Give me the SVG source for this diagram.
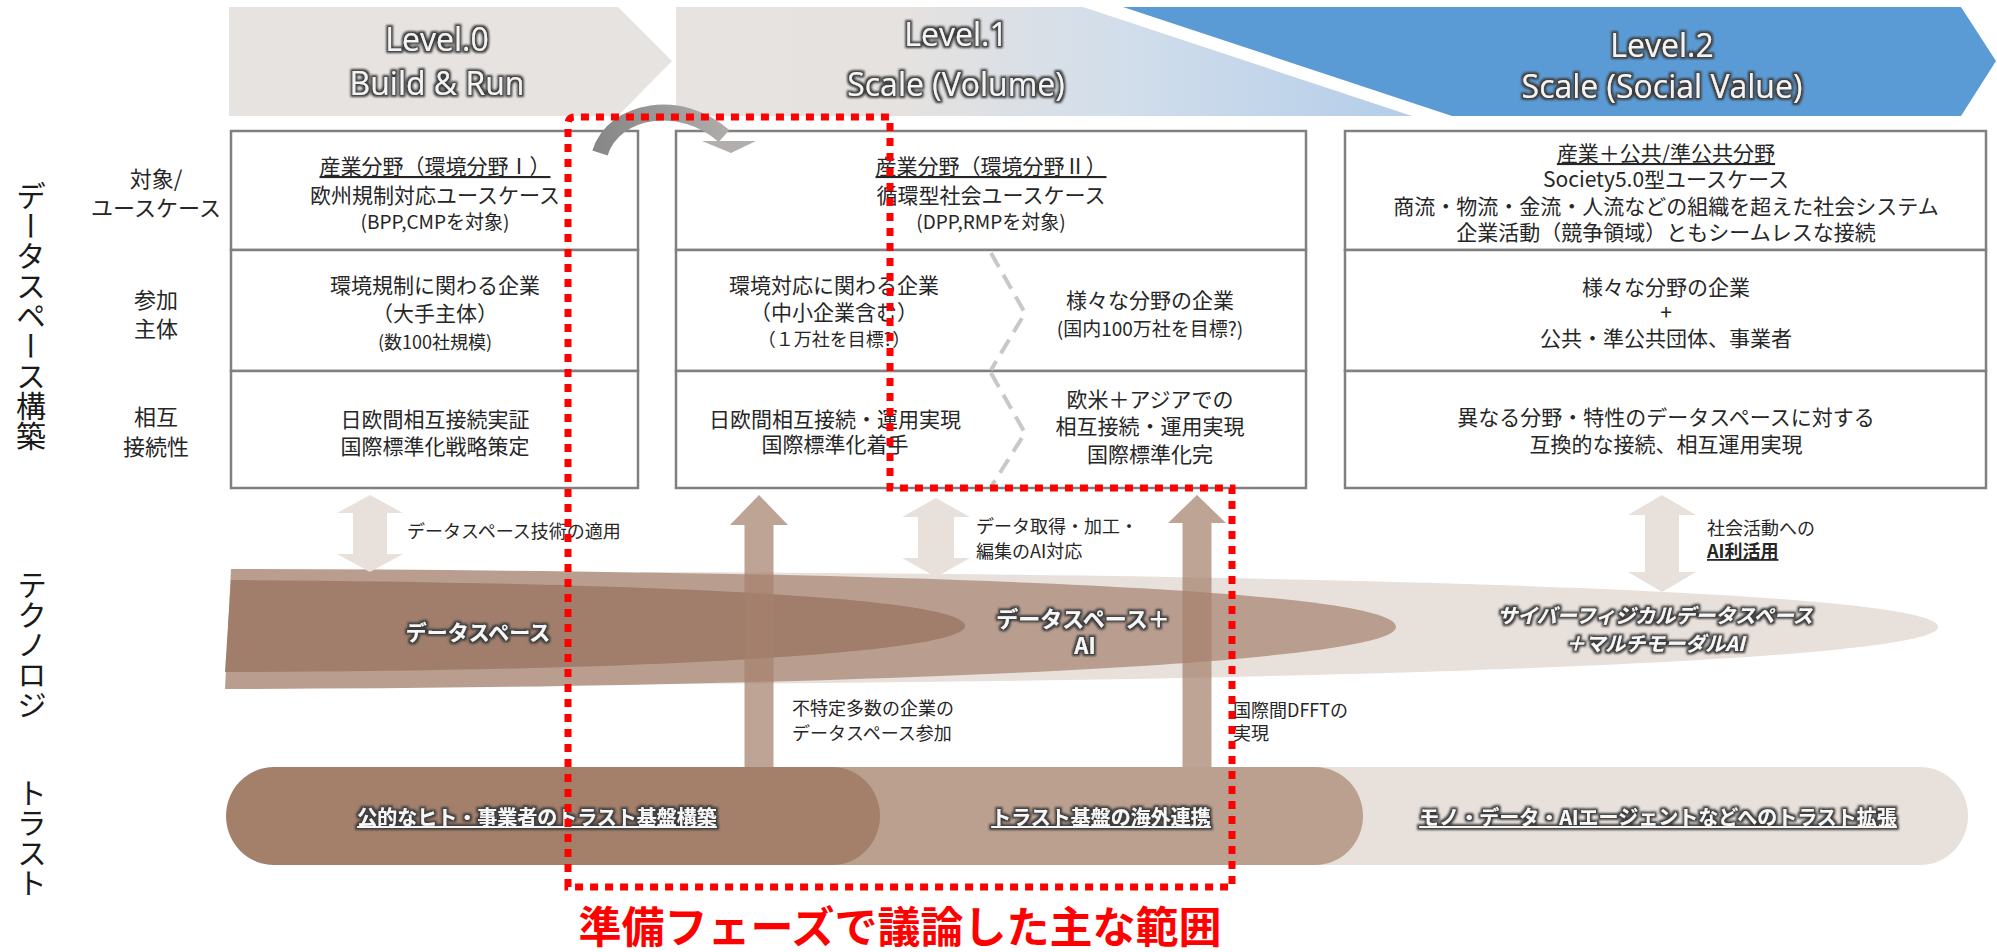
<svg xmlns="http://www.w3.org/2000/svg" width="1997" height="952" viewBox="0 0 1997 952">
<style>
text{font-family:"Noto Sans CJK JP","Noto Sans",sans-serif}
.hd{font-family:"Open Sans","Noto Sans CJK JP",sans-serif;font-size:32px;fill:#F4F4F4;text-anchor:middle}
.c{font-size:21px;fill:#262626;text-anchor:middle}
.s19{font-size:19px}
.s18{font-size:18px}
.lb{font-size:22px;fill:#262626;text-anchor:middle}
.vt{font-size:30px;fill:#1a1a1a;writing-mode:vertical-rl;text-anchor:middle}
.ul{text-decoration:underline}
.cell{fill:#fff;stroke:#808080;stroke-width:2.5}
.dash{fill:none;stroke:#C8C8C8;stroke-width:4;stroke-dasharray:16 9}
.dbl{fill:#E8E0DA}
.up{fill:#A5816C;opacity:0.72}
.note{font-size:18px;fill:#262626}
.wt{font-weight:bold;fill:#F7F7F7;text-anchor:middle}
</style>
<defs>
<linearGradient id="g1" gradientUnits="userSpaceOnUse" x1="676" y1="0" x2="1412" y2="0">
<stop offset="0" stop-color="#E7E3E0"/>
<stop offset="0.3" stop-color="#E6E2DF"/>
<stop offset="0.6" stop-color="#D2DEEB"/>
<stop offset="1" stop-color="#B4CDE9"/>
</linearGradient>
<linearGradient id="garc" gradientUnits="userSpaceOnUse" x1="590" y1="0" x2="740" y2="0">
<stop offset="0" stop-color="#858585"/>
<stop offset="1" stop-color="#B3AFAD"/>
</linearGradient>
<filter id="glow" x="-10%" y="-40%" width="120%" height="180%">
<feMorphology in="SourceAlpha" operator="dilate" radius="1.5" result="d"/>
<feGaussianBlur in="d" stdDeviation="0.9" result="b"/>
<feFlood flood-color="#3C3C3C"/>
<feComposite in2="b" operator="in" result="s"/>
<feMerge><feMergeNode in="s"/><feMergeNode in="SourceGraphic"/></feMerge>
</filter>
</defs>
<rect width="1997" height="952" fill="#fff"/>

<g id="header-level0">
<polygon points="229,7 618,7 672,61 618,116 229,116" fill="#E7E3E0"/>
<text class="hd" x="437" y="51" filter="url(#glow)">Level.0</text>
<text class="hd" x="437" y="95" filter="url(#glow)">Build &amp; Run</text>
</g>
<g id="header-level1">
<polygon points="676,7 1083,7 1412,116 676,116" fill="url(#g1)"/>
<text class="hd" x="956" y="46" filter="url(#glow)">Level.1</text>
<text class="hd" x="956" y="96" filter="url(#glow)">Scale (Volume)</text>
</g>
<g id="header-level2">
<polygon points="1123,7 1961,7 1996,61 1961,116 1452,116" fill="#5B9BD5"/>
<text class="hd" x="1662" y="57" filter="url(#glow)">Level.2</text>
<text class="hd" x="1662" y="98" filter="url(#glow)">Scale (Social Value)</text>
</g>

<g id="side-labels">
<text class="vt" x="31" y="316">データスペース構築</text>
<text class="vt" x="32" y="645">テクノロジ</text>
<text class="vt" x="32" y="838">トラスト</text>
<text class="lb" x="156" y="187">対象/</text>
<text class="lb" x="156" y="216">ユースケース</text>
<text class="lb" x="156" y="308">参加</text>
<text class="lb" x="156" y="337">主体</text>
<text class="lb" x="156" y="425">相互</text>
<text class="lb" x="156" y="455">接続性</text>
</g>

<g id="col0">
<rect class="cell" x="231" y="131" width="407" height="119"/>
<rect class="cell" x="231" y="250" width="407" height="121"/>
<rect class="cell" x="231" y="371" width="407" height="117"/>
<text class="c ul" x="435" y="174">産業分野（環境分野Ⅰ）</text>
<text class="c" x="435" y="203">欧州規制対応ユースケース</text>
<text class="c s19" x="435" y="229">(BPP,CMPを対象)</text>
<text class="c" x="435" y="293">環境規制に関わる企業</text>
<text class="c" x="435" y="321">（大手主体）</text>
<text class="c s18" x="435" y="349">(数100社規模)</text>
<text class="c" x="435" y="427">日欧間相互接続実証</text>
<text class="c" x="435" y="454">国際標準化戦略策定</text>
</g>

<g id="col1">
<rect class="cell" x="676" y="131" width="630" height="119"/>
<rect class="cell" x="676" y="250" width="630" height="121"/>
<rect class="cell" x="676" y="371" width="630" height="117"/>
<polyline class="dash" points="991,253 1025,313 991,370"/>
<polyline class="dash" points="991,373 1025,433 991,487"/>
<text class="c ul" x="991" y="174">産業分野（環境分野Ⅱ）</text>
<text class="c" x="991" y="203">循環型社会ユースケース</text>
<text class="c s19" x="991" y="229">(DPP,RMPを対象)</text>
<text class="c" x="834" y="293">環境対応に関わる企業</text>
<text class="c" x="834" y="320">（中小企業含む）</text>
<text class="c s18" x="834" y="346">（１万社を目標?）</text>
<text class="c" x="1150" y="308">様々な分野の企業</text>
<text class="c s19" x="1150" y="336">(国内100万社を目標?)</text>
<text class="c" x="835" y="427">日欧間相互接続・運用実現</text>
<text class="c" x="835" y="452">国際標準化着手</text>
<text class="c" x="1150" y="407">欧米＋アジアでの</text>
<text class="c" x="1150" y="434">相互接続・運用実現</text>
<text class="c" x="1150" y="462">国際標準化完</text>
</g>

<g id="col2">
<rect class="cell" x="1345" y="131" width="641" height="119"/>
<rect class="cell" x="1345" y="250" width="641" height="121"/>
<rect class="cell" x="1345" y="371" width="641" height="117"/>
<text class="c ul" x="1666" y="161">産業＋公共/準公共分野</text>
<text class="c" x="1666" y="187">Society5.0型ユースケース</text>
<text class="c" x="1666" y="214">商流・物流・金流・人流などの組織を超えた社会システム</text>
<text class="c" x="1666" y="240">企業活動（競争領域）ともシームレスな接続</text>
<text class="c" x="1666" y="295">様々な分野の企業</text>
<text class="c" x="1666" y="320">+</text>
<text class="c" x="1666" y="346">公共・準公共団体、事業者</text>
<text class="c" x="1666" y="425">異なる分野・特性のデータスペースに対する</text>
<text class="c" x="1666" y="452">互換的な接続、相互運用実現</text>
</g>

<g id="technology">
<path d="M 640,572 C 1300,574 1938,590 1938,627 C 1938,662 1300,682 640,684 Z" fill="#E8E0DB"/>
<path d="M 231,569 C 800,570 1396,585 1396,627 C 1396,666 800,688 225,689 Z" fill="#B99E90"/>
<path d="M 231,580 C 600,582 965,595 965,626 C 965,655 600,672 225,672 Z" fill="#A07E6B"/>
</g>

<g id="trust">
<rect x="800" y="767" width="1168" height="98" rx="48" ry="49" fill="#E8E0DB"/>
<rect x="600" y="767" width="763" height="98" rx="48" ry="49" fill="#BCA08F"/>
<rect x="226" y="767" width="654" height="98" rx="48" ry="49" fill="#A4806B"/>
</g>

<g id="connectors">
<path d="M 600,153 C 614,108 682,98 724,136" fill="none" stroke="url(#garc)" stroke-width="16"/>
<polygon points="702,141 756,141 731,153" fill="#B2AEAC"/>
<polygon class="dbl" points="370,495 403,513 387,513 387,554 403,554 370,572 337,554 353,554 353,513 337,513"/>
<polygon class="dbl" points="936,498 970,517 954,517 954,558 970,558 936,577 902,558 918,558 918,517 902,517"/>
<polygon class="dbl" points="1662,495 1696,515 1679,515 1679,572 1696,572 1662,592 1628,572 1645,572 1645,515 1628,515"/>
<polygon class="up" points="759,495 788,525 773.5,525 773.5,767 744.5,767 744.5,525 730,525"/>
<polygon class="up" points="1197,495 1226,523 1211.5,523 1211.5,767 1182.5,767 1182.5,523 1168,523"/>
</g>

<g id="labels">
<text class="note" x="407" y="538">データスペース技術の適用</text>
<text class="note" x="976" y="533">データ取得・加工・</text>
<text class="note" x="976" y="558">編集のAI対応</text>
<text class="note" x="1707" y="535">社会活動への</text>
<text class="note ul" x="1707" y="558" font-weight="bold">AI利活用</text>
<text class="note" x="792" y="715">不特定多数の企業の</text>
<text class="note" x="792" y="740">データスペース参加</text>
<text class="note" x="1233" y="717">国際間DFFTの</text>
<text class="note" x="1233" y="740">実現</text>
</g>

<g id="tech-text">
<text class="wt" x="478" y="640" font-size="21" filter="url(#glow)">データスペース</text>
<text class="wt" x="1083" y="627" font-size="22" filter="url(#glow)">データスペース＋</text>
<text class="wt" x="1085" y="654" font-size="22" filter="url(#glow)">AI</text>
<text class="wt" x="1655" y="623" font-size="20" font-style="italic" filter="url(#glow)">サイバーフィジカルデータスペース</text>
<text class="wt" x="1655" y="651" font-size="20" font-style="italic" filter="url(#glow)">＋マルチモーダルAI</text>
</g>

<g id="trust-text">
<text class="wt ul" x="537" y="825" font-size="20" filter="url(#glow)">公的なヒト・事業者のトラスト基盤構築</text>
<text class="wt ul" x="1101" y="825" font-size="20" filter="url(#glow)">トラスト基盤の海外連携</text>
<text class="wt ul" x="1658" y="825" font-size="20" filter="url(#glow)">モノ・データ・AIエージェントなどへのトラスト拡張</text>
</g>

<g id="scope">
<path d="M 568,887 L 568,124 Q 568,117 575,117 L 890,117 L 890,488 L 1232,488 L 1232,887 Z" fill="none" stroke="#FF0000" stroke-width="7" stroke-dasharray="8 7"/>
<text x="900" y="943" font-size="43" font-weight="bold" fill="#FF0000" text-anchor="middle">準備フェーズで議論した主な範囲</text>
</g>
</svg>
